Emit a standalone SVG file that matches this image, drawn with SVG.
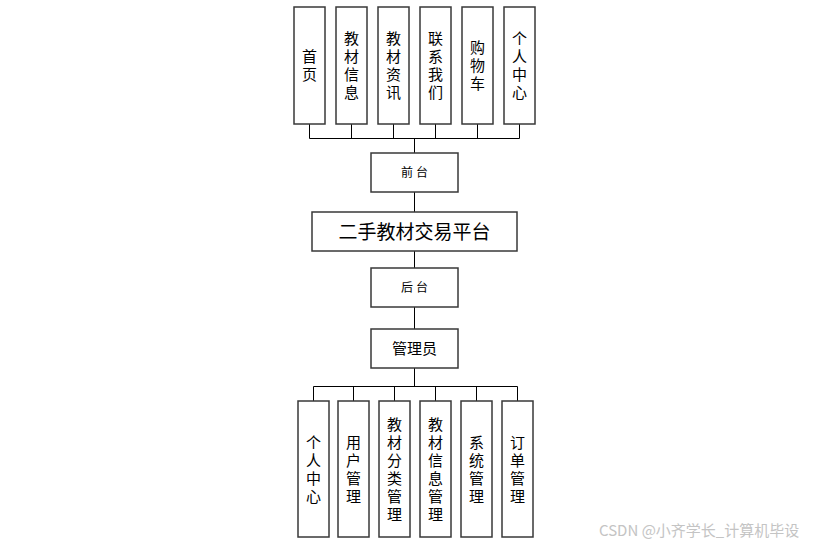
<svg xmlns="http://www.w3.org/2000/svg" width="813" height="546" viewBox="0 0 813 546">
<style>
.box{fill:#fff;stroke:#383838;stroke-width:1.5}
.ln{stroke:#000;stroke-width:1;fill:none}
text{font-family:"Noto Sans CJK SC","Liberation Sans",sans-serif;fill:#000}
.v{font-size:15px;text-anchor:middle;writing-mode:vertical-rl;letter-spacing:3px}
.s{font-size:12px;text-anchor:middle;letter-spacing:3px}
.t{font-size:19px;text-anchor:middle}
.m{font-size:15px;text-anchor:middle}
.wm{font-size:15px;fill:#c4c4c4}
</style>
<rect width="813" height="546" fill="#fff"/>
<g id="connectors">
<path class="ln" d="M309.5,124V138.5H519.5V124M351.5,124V138.5M393.5,124V138.5M435.5,124V138.5M477.5,124V138.5M414.5,138.5V153"/>
<path class="ln" d="M414.5,192V212M414.5,251V268M414.5,307V329M414.5,368V386.5"/>
<path class="ln" d="M313.5,401V386.5H517.5V401M353.5,386.5V401M394.5,386.5V401M435.5,386.5V401M476.5,386.5V401"/>
</g>
<g id="top-shouye"><rect class="box" x="294" y="7" width="31" height="117"/><text class="v" x="309.5" y="67">首页</text></g>
<g id="top-jiaocaixinxi"><rect class="box" x="336" y="7" width="31" height="117"/><text class="v" x="351.5" y="67">教材信息</text></g>
<g id="top-jiaocaizixun"><rect class="box" x="378" y="7" width="31" height="117"/><text class="v" x="393.5" y="67">教材资讯</text></g>
<g id="top-lianxi"><rect class="box" x="420" y="7" width="31" height="117"/><text class="v" x="435.5" y="67">联系我们</text></g>
<g id="top-gouwuche"><rect class="box" x="462" y="7" width="31" height="117"/><text class="v" x="477.5" y="67">购物车</text></g>
<g id="top-geren"><rect class="box" x="504" y="7" width="31" height="117"/><text class="v" x="519.5" y="67">个人中心</text></g>
<g id="qiantai"><rect class="box" x="371" y="153" width="87" height="39"/><text class="s" x="416" y="177">前台</text></g>
<g id="platform"><rect class="box" x="312" y="212" width="205" height="39"/><text class="t" x="414.5" y="238.5">二手教材交易平台</text></g>
<g id="houtai"><rect class="box" x="371" y="268" width="87" height="39"/><text class="s" x="416" y="292">后台</text></g>
<g id="admin"><rect class="box" x="371" y="329" width="87" height="39"/><text class="m" x="414.5" y="354">管理员</text></g>
<g id="b-geren"><rect class="box" x="298" y="401" width="31" height="136"/><text class="v" x="313.5" y="470.5">个人中心</text></g>
<g id="b-yonghu"><rect class="box" x="338" y="401" width="31" height="136"/><text class="v" x="353.5" y="470.5">用户管理</text></g>
<g id="b-fenlei"><rect class="box" x="379" y="401" width="31" height="136"/><text class="v" x="394.5" y="470.5">教材分类管理</text></g>
<g id="b-xinxi"><rect class="box" x="420" y="401" width="31" height="136"/><text class="v" x="435.5" y="470.5">教材信息管理</text></g>
<g id="b-xitong"><rect class="box" x="461" y="401" width="31" height="136"/><text class="v" x="476.5" y="470.5">系统管理</text></g>
<g id="b-dingdan"><rect class="box" x="502" y="401" width="31" height="136"/><text class="v" x="517.5" y="470.5">订单管理</text></g>
<text class="wm" x="599" y="536">CSDN @小齐学长_计算机毕设</text>
</svg>
